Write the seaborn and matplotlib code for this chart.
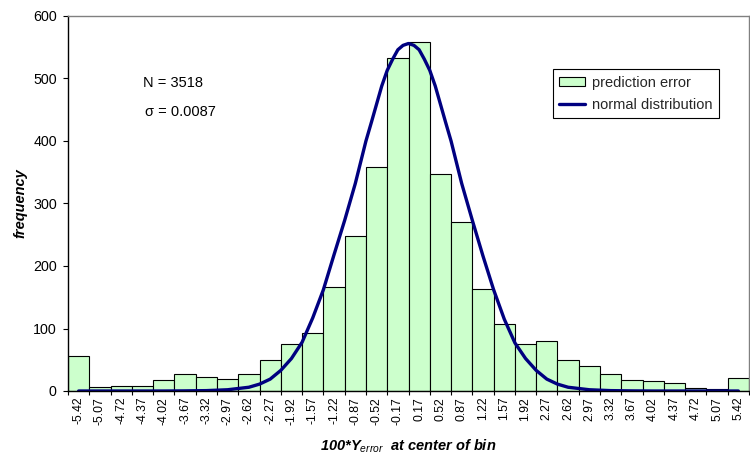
import numpy as np
import matplotlib
matplotlib.use("Agg")
import matplotlib.pyplot as plt
import seaborn as sns
from matplotlib.patches import Patch
from matplotlib.lines import Line2D

# ---- data ----
bin_labels = ["-5.42", "-5.07", "-4.72", "-4.37", "-4.02", "-3.67", "-3.32", "-2.97",
              "-2.62", "-2.27", "-1.92", "-1.57", "-1.22", "-0.87", "-0.52", "-0.17",
              "0.17", "0.52", "0.87", "1.22", "1.57", "1.92", "2.27", "2.62",
              "2.97", "3.32", "3.67", "4.02", "4.37", "4.72", "5.07", "5.42"]
counts = [56, 6, 8, 8, 17, 28, 23, 20,
          27, 50, 76, 93, 167, 248, 358, 532,
          559, 347, 271, 163, 107, 76, 80, 50,
          40, 27, 18, 16, 13, 5, 4, 21]

curve_x = [-5.425, -5.075, -4.725, -4.375, -4.025, -3.675, -3.325, -2.975,
           -2.625, -2.45, -2.275, -2.1, -1.925, -1.75, -1.575, -1.4,
           -1.225, -1.05, -0.875, -0.79, -0.7, -0.61, -0.525, -0.44, -0.35,
           -0.26, -0.175, -0.09, 0.0,
           0.09, 0.175, 0.26, 0.35, 0.44, 0.525, 0.61, 0.7, 0.79, 0.875,
           1.05, 1.225, 1.4,
           1.575, 1.75, 1.925, 2.1, 2.275, 2.45, 2.625, 2.975,
           3.325, 3.675, 4.025, 4.375, 4.725, 5.075, 5.425]
curve_y = [0, 0, 0, 0, 0, 0.2, 0.6, 2,
           6, 11, 19, 33, 52, 78, 117, 162,
           218, 273, 332, 365, 400, 430, 459, 488, 513,
           531, 546, 553, 556,
           553, 546, 531, 513, 488, 459, 430, 400, 365, 332,
           273, 216, 162,
           115, 77, 52, 33, 19, 11, 6, 2,
           0.6, 0.2, 0, 0, 0, 0, 0]

annot_n = "N = 3518"
annot_sigma = "\u03c3 = 0.0087"

# ---- styling ----
sns.set_theme(style="white")
plt.rcParams["font.family"] = ["Liberation Sans", "DejaVu Sans"]
plt.rcParams["mathtext.fontset"] = "custom"
plt.rcParams["mathtext.rm"] = "Liberation Sans:italic"
plt.rcParams["mathtext.it"] = "Liberation Sans:italic"

bar_color = "#CCFFCC"
line_color = "#000080"
bin_width = 0.35
bin_start = -5.6

fig = plt.figure(figsize=(7.5, 4.57), dpi=100)
ax = fig.add_axes([68 / 750, 1 - 391 / 457, 681 / 750, 375 / 457])

x_vals = np.array([float(s) for s in bin_labels])
sns.histplot(x=x_vals, weights=counts, binwidth=bin_width,
             binrange=(bin_start, -bin_start), color=bar_color,
             edgecolor="black", linewidth=0.8, alpha=1.0, ax=ax)

sns.lineplot(x=curve_x, y=curve_y, color=line_color, linewidth=2.4,
             sort=False, ax=ax, solid_joinstyle="round", solid_capstyle="round")

ax.set_xlim(bin_start, -bin_start)
ax.set_ylim(0, 600)

edges = bin_start + bin_width * np.arange(len(bin_labels) + 1)
centers = edges[:-1] + bin_width / 2
ax.set_xticks(edges)
ax.set_xticklabels([])
ax.set_xticks(centers, minor=True)
ax.set_xticklabels(bin_labels, minor=True, rotation=90, fontsize=8.8)
ax.tick_params(axis="x", which="major", direction="out", length=3, width=0.8,
               color="black", bottom=True)
ax.tick_params(axis="x", which="minor", length=0, pad=4.2, labelcolor="black")

ax.set_yticks(np.arange(0, 601, 100))
ax.tick_params(axis="y", which="major", direction="out", length=3.6, width=0.8,
               color="black", left=True, labelsize=10.3, pad=4.5, labelcolor="black")

for side in ["left", "bottom"]:
    ax.spines[side].set_color("black")
    ax.spines[side].set_linewidth(1.0)
for side in ["top", "right"]:
    ax.spines[side].set_color("#808080")
    ax.spines[side].set_linewidth(1.0)
    ax.spines[side].set_visible(True)

ax.set_xlabel(r"100*Y$_{\rm error}$  at center of bin", fontsize=10.5,
              fontweight="bold", fontstyle="italic", color="black")
ax.set_ylabel("frequency", fontsize=10.5, fontweight="bold",
              fontstyle="italic", color="black")
ax.xaxis.set_label_coords(0.5, -0.125)
ax.yaxis.set_label_coords(-0.06, 0.5)

ax.text(0.1097, 0.822, annot_n, transform=ax.transAxes, fontsize=10.5,
        ha="left", va="center", color="black")
ax.text(0.113, 0.745, annot_sigma, transform=ax.transAxes, fontsize=10.5,
        ha="left", va="center", color="black")

handles = [Patch(facecolor=bar_color, edgecolor="black", linewidth=0.8),
           Line2D([0], [0], color=line_color, linewidth=2.4)]
leg = ax.legend(handles, ["prediction error", "normal distribution"],
                loc="upper right", bbox_to_anchor=(0.956, 0.858),
                borderaxespad=0, fontsize=10.5, frameon=True, fancybox=False,
                shadow=False, framealpha=1, edgecolor="black",
                handlelength=1.8, handleheight=0.5, handletextpad=0.45,
                labelspacing=0.55, borderpad=0.45)
leg.get_frame().set_linewidth(0.8)

fig.savefig("out.png", dpi=100)
